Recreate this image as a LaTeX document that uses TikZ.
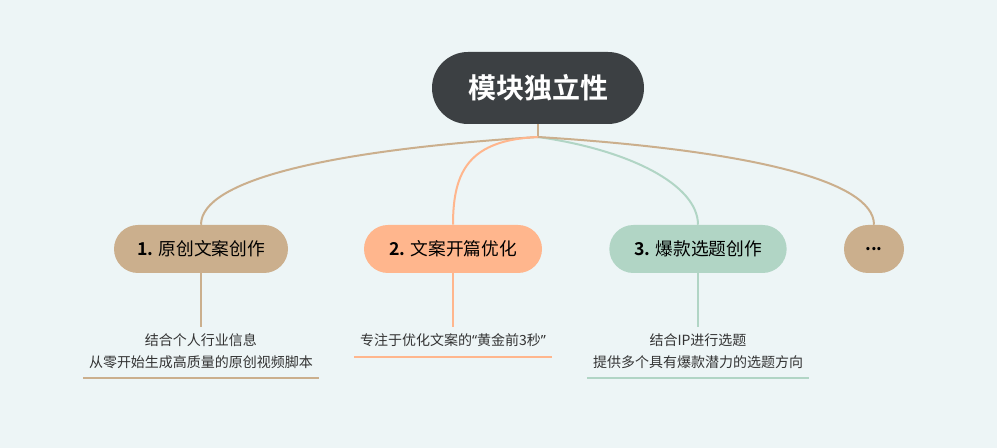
\documentclass[tikz,border=0pt]{standalone}
\usepackage{fontspec}
\setmainfont{Noto Sans CJK SC}[BoldFont={* Bold}]
\newfontfamily\latinfont{Noto Sans}
\usepackage{xcolor}
\usepackage{tikz}
\usetikzlibrary{positioning}

\definecolor{bgblue}{RGB}{237,245,246}
\definecolor{rootgray}{RGB}{60,64,67}
\definecolor{tan}{RGB}{203,175,141}
\definecolor{peach}{RGB}{255,182,141}
\definecolor{mint}{RGB}{177,213,197}
\definecolor{txtgray}{RGB}{51,51,51}

\tikzset{
  root/.style={fill=rootgray, text=white, font=\fontsize{21}{25}\selectfont\bfseries,
    minimum width=159pt, minimum height=54pt, rounded corners=27pt},
  branch/.style={fill=#1, text=black, font=\fontsize{13.3}{16}\selectfont,
    minimum height=36pt, rounded corners=18pt},
  leaf/.style={align=center, text=txtgray, font=\fontsize{10.5}{16}\selectfont,
    inner xsep=4pt, inner ysep=5pt},
  link/.style={line width=1.5pt, #1}
}

\begin{document}
\begin{tikzpicture}[x=0.75pt, y=-0.75pt]
    % Nền
    \fill[bgblue] (0,0) rectangle (997,448);
    \useasboundingbox (0,0) rectangle (997,448);

    % Chủ đề chính
    \node[root] (root) at (538,88) {模块独立性};
    \coordinate (hub) at (538,137);

    % Các nhánh
    \node[branch=tan, minimum width=130.5pt] (b1) at (201,249) {{\bfseries 1.} 原创文案创作};
    \node[branch=peach, minimum width=133.5pt] (b2) at (453,249) {{\bfseries 2.} 文案开篇优化};
    \node[branch=mint, minimum width=133pt] (b3) at (698,249) {{\bfseries 3.} 爆款选题创作};
    \node[branch=tan, minimum width=45pt] (b4) at (874,249) {\bfseries ...};

    % Nối chủ đề với nhánh
    \draw[link=tan] (root.south) -- (hub);
    \draw[link=tan] (hub) .. controls (330,150) and (201,180) .. (b1.north);
    \draw[link=peach] (hub) .. controls (470,140) and (453,170) .. (b2.north);
    \draw[link=mint] (hub) .. controls (630,150) and (698,185) .. (b3.north);
    \draw[link=tan] (hub) .. controls (746,150) and (874,180) .. (b4.north);

    % Ý phụ
    \node[leaf, anchor=north] (d1) at (201,327) {结合个人行业信息\\从零开始生成高质量的原创视频脚本};
    \node[leaf, anchor=north] (d2) at (453,327) {专注于优化文案的{\latinfont“}黄金前3秒{\latinfont”}};
    \node[leaf, anchor=north] (d3) at (698,327) {结合IP进行选题\\提供多个具有爆款潜力的选题方向};

    \draw[link=tan] (b1.south) -- (d1.north);
    \draw[link=peach] (b2.south) -- (d2.north);
    \draw[link=mint] (b3.south) -- (d3.north);

    % Gạch chân
    \draw[link=tan] ([yshift=-2pt]d1.south west) -- ([yshift=-2pt]d1.south east);
    \draw[link=peach] ([yshift=-2pt]d2.south west) -- ([yshift=-2pt]d2.south east);
    \draw[link=mint] ([yshift=-2pt]d3.south west) -- ([yshift=-2pt]d3.south east);
\end{tikzpicture}
\end{document}
